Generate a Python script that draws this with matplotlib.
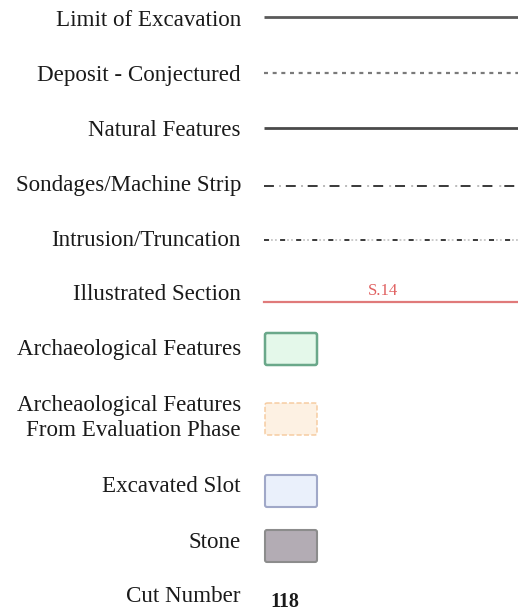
import matplotlib.pyplot as plt
from matplotlib.patches import FancyBboxPatch

plt.rcParams['font.family'] = ['Liberation Serif', 'DejaVu Serif']

# legend entries
line_labels = ['Limit of Excavation', 'Deposit - Conjectured', 'Natural Features',
               'Sondages/Machine Strip', 'Intrusion/Truncation', 'Illustrated Section']
line_rows = [20, 75, 130, 186, 240, 295]

box_labels = ['Archaeological Features',
              'Archeaological Features\nFrom Evaluation Phase',
              'Excavated Slot', 'Stone']
box_rows = [350, 418, 487, 542]

cut_label = 'Cut Number'
cut_value = '118'
section_label = 'S.14'

fig = plt.figure(figsize=(5.18, 6.14), dpi=100)
ax = fig.add_axes([0, 0, 1, 1])
ax.set_xlim(0, 518)
ax.set_ylim(614, 0)
ax.axis('off')

txt = dict(ha='right', va='center', fontsize=16.6, color='#1a1a1a')

for lab, y in zip(line_labels, line_rows):
    ax.text(241, y, lab, **txt)
for lab, y in zip(box_labels, box_rows):
    ax.text(241, y, lab, linespacing=1.2, **txt)
ax.text(241, 597, cut_label, **txt)

x0, x1 = 264, 518
# limit of excavation
ax.plot([x0, x1], [17, 17], color='#5a5a5a', lw=2.0, solid_capstyle='butt')
# deposit conjectured
ax.plot([x0, x1], [73, 73], color='#7a7a7a', lw=1.6, dashes=(1.8, 2.1))
# natural features
ax.plot([x0, x1], [128, 128], color='#4a4a4a', lw=2.0, solid_capstyle='butt')
# sondages / machine strip
ax.plot([x0, x1], [186, 186], color='#2a2a2a', lw=1.3, dashes=(5.5, 6.6))
ax.plot([x0 + 15, x1], [186, 186], color='#b5b5b5', lw=1.3, dashes=(1.1, 11.1))
# intrusion / truncation
ax.plot([x0, x1], [240, 240], color='#2a2a2a', lw=1.3, dashes=(2.8, 6.1))
ax.plot([x0 + 7, x1], [240, 240], color='#c5c5c5', lw=1.3, dashes=(1.0, 1.2, 1.0, 5.7))
# illustrated section
ax.plot([x0, x1], [302, 302], color='#e07a7a', lw=1.6)
ax.text(383, 291, section_label, ha='center', va='center', fontsize=12, color='#e06060')

# boxes
boxes = [
    (333, '#e4f8ea', '#6aa88a', 1.8, '-'),
    (403, '#fdf1e3', '#f5c89a', 1.0, '--'),
    (475, '#eaf0fb', '#a0a8c8', 1.5, '-'),
    (530, '#b3acb4', '#8c8c8c', 1.5, '-'),
]
for y, fc, ec, lw, ls in boxes:
    ax.add_patch(FancyBboxPatch((265, y), 52, 32, boxstyle='round,pad=0,rounding_size=2',
                                fc=fc, ec=ec, lw=lw, ls=ls))

ax.text(270, 602, cut_value, ha='left', va='center', fontsize=14.5,
        fontweight='bold', color='#1a1a1a')

fig.savefig('out.png', dpi=100)
